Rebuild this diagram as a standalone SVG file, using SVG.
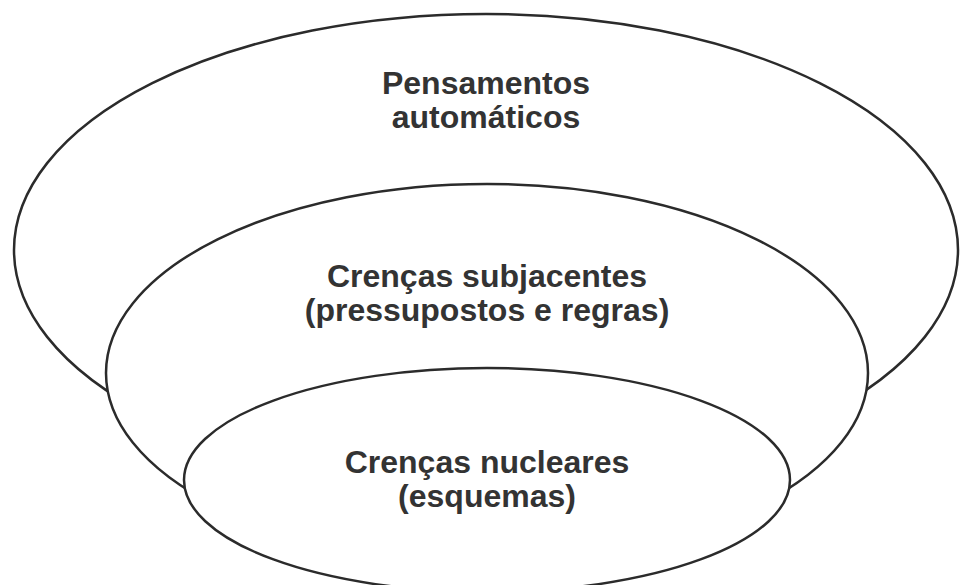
<svg xmlns="http://www.w3.org/2000/svg" width="960" height="585" viewBox="0 0 960 585">
<style>
.shape{fill:#ffffff;stroke:#2b2b2b;stroke-width:2.5}
.lbl{font-family:"Liberation Sans",Arial,sans-serif;font-weight:bold;font-size:32px;fill:#333333;text-anchor:middle}
</style>
<rect width="960" height="585" fill="#ffffff"/>
<g id="connectors"></g>
<g id="node-pensamentos">
<ellipse class="shape" cx="486" cy="250" rx="472" ry="236"/>
<text class="lbl" x="486" y="94">Pensamentos</text>
<text class="lbl" x="486" y="128">automáticos</text>
</g>
<g id="node-subjacentes">
<ellipse class="shape" cx="487" cy="373" rx="381" ry="189"/>
<text class="lbl" x="487" y="287">Crenças subjacentes</text>
<text class="lbl" x="487" y="321">(pressupostos e regras)</text>
</g>
<g id="node-nucleares">
<ellipse class="shape" cx="487" cy="480" rx="303" ry="112"/>
<text class="lbl" x="487" y="473">Crenças nucleares</text>
<text class="lbl" x="487" y="507">(esquemas)</text>
</g>
</svg>
